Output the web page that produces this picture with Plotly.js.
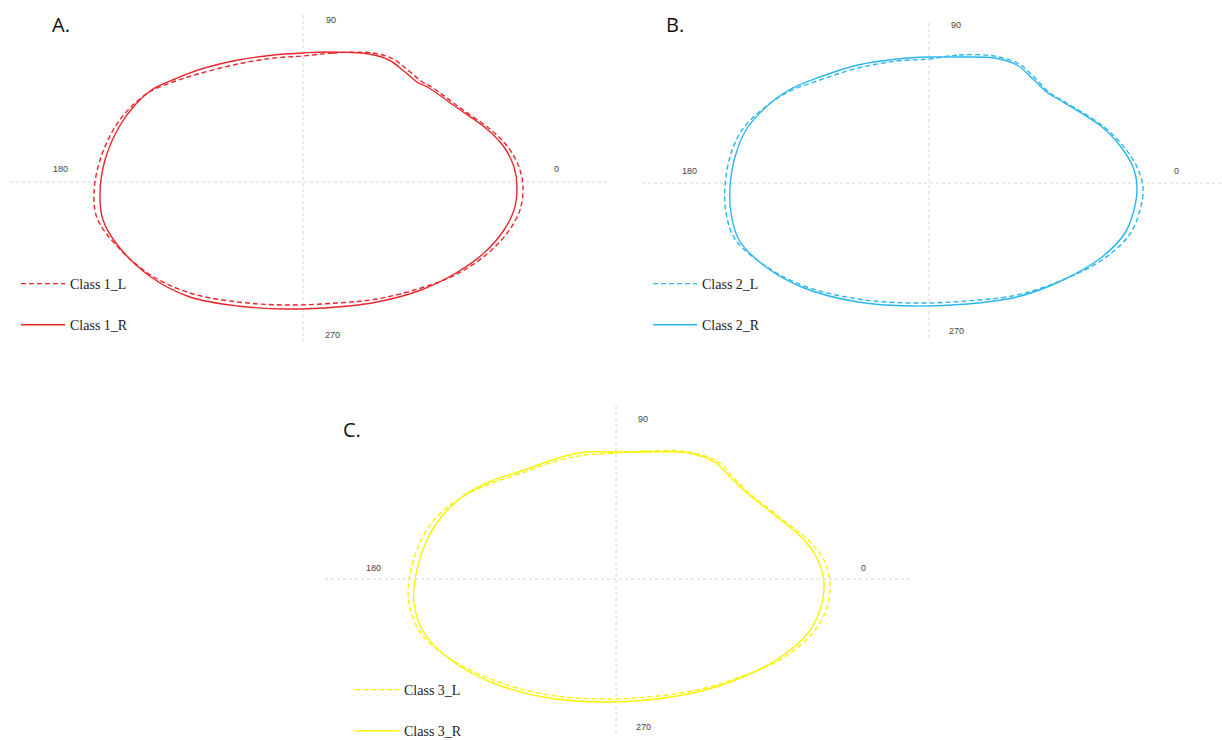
<!DOCTYPE html>
<html>
<head>
<meta charset="utf-8">
<script src="https://cdn.plot.ly/plotly-3.0.1.min.js"></script>
<style>html,body{margin:0;padding:0;background:#fff;}#chart{width:1222px;height:740px;}</style>
</head>
<body>
<div id="chart"></div>
<script>
// ---- data (shape outline coordinates, centred on the origin) ----
var panelLabels = ["A.", "B.", "C."];
var angleLabels = ["0", "90", "180", "270"];
var seriesNames = ["Class 1_L", "Class 1_R", "Class 2_L", "Class 2_R", "Class 3_L", "Class 3_R"];

var class1L_x = [0,30,70,90,106,118,130,156,188,205,216,220,217,205,184,154,118,74,34,-17,-65,-113,-154,-188,-206,-209,-203,-188,-171,-152,-130,-105,-65,-29];
var class1L_y = [126,129,129,123,111,101,94,75,52,35,15,-5,-28,-50,-72,-92,-106,-117,-121,-123,-120,-111,-92,-62,-36,-11,22,55,76,91,100,108,118,124];
var class1R_x = [0,22,66,86,102,114,126,153,185,201,211,214,211,201,181,153,118,74,34,-17,-65,-113,-152,-184,-200,-203,-198,-184,-168,-150,-128,-105,-65,-29];
var class1R_y = [129,130,128,122,110,100,94,75,52,35,15,-5,-28,-48,-71,-91,-108,-120,-125,-127,-124,-115,-95,-65,-38,-11,22,55,77,93,103,112,122,127];

var class2L_x = [0,30,65,90,105,121,136,175,195,208,214,211,201,176,136,88,38,-17,-71,-125,-165,-194,-203,-204,-199,-187,-165,-141,-109,-71,-32];
var class2L_y = [124,128,127,119,106,90,81,56,36,16,-4,-27,-51,-75,-96,-112,-118,-120,-116,-103,-82,-56,-30,-4,26,53,75,91,103,115,122];
var class2R_x = [0,30,65,88,103,119,134,173,192,204,208,205,196,173,134,88,38,-17,-71,-125,-163,-190,-198,-199,-194,-183,-163,-140,-109,-71,-32];
var class2R_y = [126,126,125,118,105,90,81,56,36,16,-4,-27,-50,-74,-97,-114,-121,-123,-119,-105,-84,-57,-30,-4,26,53,76,93,106,118,124];

var class3L_x = [0,31,73,102,117,133,167,192,208,214,210,196,167,127,81,31,-15,-73,-123,-167,-196,-207,-207,-198,-182,-157,-129,-94,-56,-31];
var class3L_y = [126,128,127,117,102,86,59,39,19,-4,-31,-55,-79,-97,-111,-118,-120,-115,-101,-79,-53,-24,-1,32,59,80,94,106,119,124];
var class3R_x = [0,31,73,100,115,131,165,188,202,208,204,192,165,127,81,31,-15,-73,-123,-165,-192,-202,-201,-192,-177,-154,-127,-92,-54,-31];
var class3R_y = [127,127,126,116,101,86,59,39,19,-4,-31,-54,-78,-98,-113,-121,-123,-118,-104,-81,-54,-24,-1,32,59,82,97,109,122,127];

// ---- styling / layout ----
var colors = ["#E8262C", "#29B6EE", "#F9F200"];
var W = 1222, H = 740;
function closeRing(a){ return a.concat([a[0]]); }

var panels = [
  {xs:[class1L_x,class1R_x], ys:[class1L_y,class1R_y], px:[10,607], py:[15,342], c:[303,182],
   lbl:[[253,13],[28,162],[-243,13],[29,-153]], letter:[50,25], leg:[16,268]},
  {xs:[class2L_x,class2R_x], ys:[class2L_y,class2R_y], px:[642,1222], py:[20,338], c:[929,183],
   lbl:[[247,12],[27,158],[-240,12],[27,-148]], letter:[664,25], leg:[648,268]},
  {xs:[class3L_x,class3R_x], ys:[class3L_y,class3R_y], px:[325,910], py:[405,733], c:[616,579],
   lbl:[[247,11],[27,160],[-243,11],[27,-148]], letter:[341,430], leg:[350,674]}
];

var traces = [], layout = {
  width: W, height: H, margin:{l:0,r:0,t:0,b:0,autoexpand:false},
  paper_bgcolor:"#fff", plot_bgcolor:"#fff", showlegend:true,
  shapes: [], annotations: []
};

panels.forEach(function(p, i){
  var sx = i===0 ? "" : String(i+1);
  var xa = "x"+sx, ya = "y"+sx;
  for (var k=0;k<2;k++){
    traces.push({
      type:"scatter", mode:"lines",
      x: closeRing(p.xs[k]), y: closeRing(p.ys[k]),
      xaxis: xa, yaxis: ya,
      name: seriesNames[i*2+k],
      legend: i===0 ? "legend" : "legend"+(i+1),
      legendgroup: "g"+i+"_"+k,
      line:{color:colors[i], width:1.4, shape:"spline", smoothing:1, dash: k===0 ? "5px,3px" : "solid"},
      hoverinfo:"skip"
    });
  }
  var ax = {
    domain:[p.px[0]/W, p.px[1]/W],
    range:[-(p.c[0]-p.px[0]), p.px[1]-p.c[0]],
    showgrid:false, zeroline:false, showticklabels:false, showline:false, ticks:"", fixedrange:true
  };
  var ay = {
    domain:[1-p.py[1]/H, 1-p.py[0]/H],
    range:[-(p.py[1]-p.c[1]), p.c[1]-p.py[0]],
    showgrid:false, zeroline:false, showticklabels:false, showline:false, ticks:"", fixedrange:true
  };
  if (i>0) { ax.anchor = ya; ay.anchor = xa; }
  layout["xaxis"+sx] = ax;
  layout["yaxis"+sx] = ay;

  // crosshair lines
  layout.shapes.push({type:"line", xref:xa+" domain", yref:ya, x0:0, x1:1, y0:0, y1:0,
    line:{color:"#d4d4d4", width:1, dash:"dot"}, layer:"below"});
  layout.shapes.push({type:"line", xref:xa, yref:ya+" domain", x0:0, x1:0, y0:0, y1:1,
    line:{color:"#d4d4d4", width:1, dash:"dot"}, layer:"below"});

  // angle labels
  for (var j=0;j<4;j++){
    layout.annotations.push({xref:xa, yref:ya, x:p.lbl[j][0], y:p.lbl[j][1], text:angleLabels[j],
      showarrow:false, font:{family:"Liberation Sans, Arial", size:9, color:"#444"}});
  }
  // panel letter
  layout.annotations.push({xref:"paper", yref:"paper", x:p.letter[0]/W, y:1-p.letter[1]/H,
    xanchor:"left", yanchor:"middle", text:panelLabels[i], showarrow:false,
    font:{family:"Open Sans, Liberation Sans", size:20, color:"#111"}});

  layout[i===0 ? "legend" : "legend"+(i+1)] = {
    x:p.leg[0]/W, y:1-p.leg[1]/H, xanchor:"left", yanchor:"top",
    xref:"paper", yref:"paper",
    bgcolor:"rgba(0,0,0,0)", borderwidth:0,
    font:{family:"Liberation Serif, Times New Roman", size:14, color:"#222"},
    itemwidth:44, tracegroupgap:20, traceorder:"grouped"
  };
});

Plotly.newPlot("chart", traces, layout, {staticPlot:true, displayModeBar:false});
</script>
</body>
</html>
